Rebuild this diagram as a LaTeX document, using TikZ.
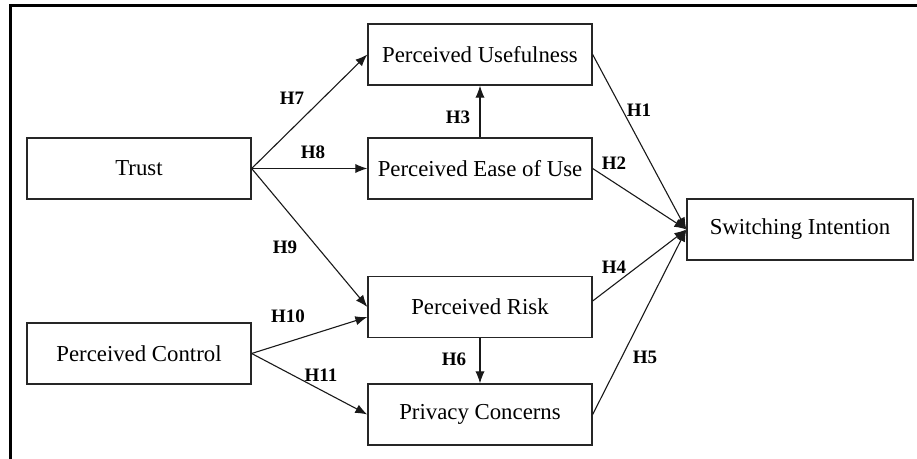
\documentclass[tikz,border=0pt]{standalone}
\usepackage{fontspec}
\setmainfont{Liberation Serif}
\usetikzlibrary{arrows.meta}
\begin{document}
\begin{tikzpicture}[x=0.5pt,y=-0.5pt,
  box/.style={draw=black!85,line width=0.65pt,inner sep=0pt,minimum width=112pt,minimum height=30.5pt,font=\fontsize{11.4}{13}\selectfont},
  hyp/.style={font=\fontsize{9.5}{10}\selectfont\bfseries,inner sep=0pt},
  arr/.style={draw=black!90,line width=0.55pt,-{Latex[length=6pt,width=4.6pt]}}]
\useasboundingbox (0,0) rectangle (917,459);
\draw[line width=1.5pt] (10,470) -- (10,6) -- (930,6);
\node[box] (T) at (139,168.5) {Trust};
\node[box] (PU) at (480,54.5) {Perceived Usefulness};
\node[box] (PE) at (480,168.5) {Perceived Ease of Use};
\node[box] (PR) at (480,307) {Perceived Risk};
\node[box] (PZ) at (480,414.5) {Privacy Concerns};
\node[box] (PC) at (139,353.5) {Perceived Control};
\node[box,minimum width=113pt] (SI) at (800,229.5) {Switching Intention};
\draw[arr] (T.east) -- (PU.west);
\draw[arr] (T.east) -- (PE.west);
\draw[arr] (T.east) -- (PR.west);
\draw[arr] (PC.east) -- ([yshift=-5pt]PR.west);
\draw[arr] (PC.east) -- (PZ.west);
\draw[arr] (PE.north) -- (PU.south);
\draw[arr] (PR.south) -- (PZ.north);
\draw[arr] (PU.east) -- (SI.west);
\draw[arr] (PE.east) -- (SI.west);
\draw[arr] ([yshift=3pt]PR.east) -- (SI.west);
\draw[arr] (PZ.east) -- (SI.west);
\node[hyp] (h7) at (292,98) {H7};
\node[hyp] (h8) at (313,152) {H8};
\node[hyp] (h3) at (458,117) {H3};
\node[hyp] (h1) at (639,110) {H1};
\node[hyp] (h2) at (614,163) {H2};
\node[hyp] (h9) at (285,247) {H9};
\node[hyp] (h10) at (288,316) {H10};
\node[hyp] (h11) at (321,375) {H11};
\node[hyp] (h6) at (454,359) {H6};
\node[hyp] (h4) at (614,267) {H4};
\node[hyp] (h5) at (645,357) {H5};
\end{tikzpicture}
\end{document}
